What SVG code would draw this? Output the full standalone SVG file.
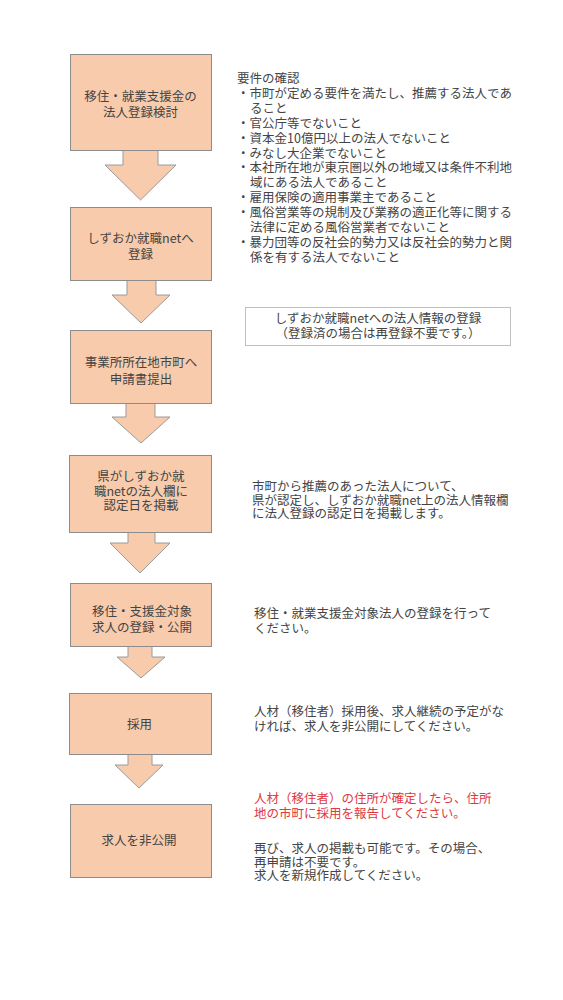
<svg xmlns="http://www.w3.org/2000/svg" width="563" height="1000" viewBox="0 0 563 1000">
<style>
.box{fill:#F8CBAD;stroke:#8c8c8c;stroke-width:1}
.arr{fill:#F8CBAD;stroke:#9a9a9a;stroke-width:1}
.t{font-family:"Noto Sans CJK JP","Noto Sans",sans-serif;font-size:12.5px;fill:#444444}
.c{text-anchor:middle}
.red{fill:#e0383f}
.note{fill:#ffffff;stroke:#bfbfbf;stroke-width:1}
</style>
<rect width="563" height="1000" fill="#ffffff"/>
<g id="connectors">
<polygon class="arr" points="123,150 158,150 158,165 176,165 140.5,200 105,165 123,165"/>
<polygon class="arr" points="127,280 156,280 156,295 170,295 141,323 112,295 127,295"/>
<polygon class="arr" points="126,403 155,403 155,417 170,417 141,443 112,417 126,417"/>
<polygon class="arr" points="128,532 155,532 155,543 170,543 140,573 110,543 128,543"/>
<polygon class="arr" points="128,646 152,646 152,657 165,657 141,678 117,657 128,657"/>
<polygon class="arr" points="128,754 152,754 152,765 163,765 139,788 115,765 128,765"/>
</g>
<g id="node1">
<rect class="box" x="70.5" y="54.5" width="141" height="96"/>
<text class="t c"><tspan x="140.5" y="100.5">移住・就業支援金の</tspan><tspan x="140.5" y="117">法人登録検討</tspan></text>
</g>
<g id="node2">
<rect class="box" x="70.5" y="207.5" width="141" height="73"/>
<text class="t c"><tspan x="140.5" y="242.5">しずおか就職netへ</tspan><tspan x="140.5" y="258.5">登録</tspan></text>
</g>
<g id="node3">
<rect class="box" x="70.5" y="330.5" width="141" height="73"/>
<text class="t c"><tspan x="141" y="367">事業所所在地市町へ</tspan><tspan x="141" y="383.5">申請書提出</tspan></text>
</g>
<g id="node4">
<rect class="box" x="69.5" y="455.5" width="142" height="77"/>
<text class="t c"><tspan x="141" y="481">県がしずおか就</tspan><tspan x="141" y="496">職netの法人欄に</tspan><tspan x="141" y="510">認定日を掲載</tspan></text>
</g>
<g id="node5">
<rect class="box" x="70.5" y="583.5" width="141" height="63"/>
<text class="t c"><tspan x="142" y="615.5">移住・支援金対象</tspan><tspan x="142" y="632">求人の登録・公開</tspan></text>
</g>
<g id="node6">
<rect class="box" x="69.5" y="693.5" width="142" height="61"/>
<text class="t c" x="139.5" y="728.5">採用</text>
</g>
<g id="node7">
<rect class="box" x="70.5" y="804.5" width="141" height="73"/>
<text class="t c" x="139" y="844.5">求人を非公開</text>
</g>
<g id="note1">
<text class="t"><tspan x="237" y="83">要件の確認</tspan><tspan x="237" y="97.9">・市町が定める要件を満たし、推薦する法人であ</tspan><tspan x="250" y="112.8">ること</tspan><tspan x="237" y="127.7">・官公庁等でないこと</tspan><tspan x="237" y="142.6">・資本金10億円以上の法人でないこと</tspan><tspan x="237" y="157.5">・みなし大企業でないこと</tspan><tspan x="237" y="172.4">・本社所在地が東京圏以外の地域又は条件不利地</tspan><tspan x="250" y="187.3">域にある法人であること</tspan><tspan x="237" y="202.2">・雇用保険の適用事業主であること</tspan><tspan x="237" y="217.1">・風俗営業等の規制及び業務の適正化等に関する</tspan><tspan x="250" y="232">法律に定める風俗営業者でないこと</tspan><tspan x="237" y="246.9">・暴力団等の反社会的勢力又は反社会的勢力と関</tspan><tspan x="250" y="261.8">係を有する法人でないこと</tspan></text>
</g>
<g id="note2">
<rect class="note" x="245.5" y="307.5" width="265" height="38"/>
<text class="t c"><tspan x="378" y="323">しずおか就職netへの法人情報の登録</tspan><tspan x="378" y="337.5">（登録済の場合は再登録不要です。）</tspan></text>
</g>
<g id="note3">
<text class="t"><tspan x="252" y="491">市町から推薦のあった法人について、</tspan><tspan x="252" y="504.5">県が認定し、しずおか就職net上の法人情報欄</tspan><tspan x="252" y="518">に法人登録の認定日を掲載します。</tspan></text>
</g>
<g id="note4">
<text class="t"><tspan x="254" y="618">移住・就業支援金対象法人の登録を行って</tspan><tspan x="254" y="633">ください。</tspan></text>
</g>
<g id="note5">
<text class="t"><tspan x="254" y="716">人材（移住者）採用後、求人継続の予定がな</tspan><tspan x="254" y="731">ければ、求人を非公開にしてください。</tspan></text>
</g>
<g id="note6">
<text class="t red"><tspan x="254" y="803">人材（移住者）の住所が確定したら、住所</tspan><tspan x="254" y="818">地の市町に採用を報告してください。</tspan></text>
<text class="t"><tspan x="254" y="853">再び、求人の掲載も可能です。その場合、</tspan><tspan x="254" y="866.5">再申請は不要です。</tspan><tspan x="254" y="880">求人を新規作成してください。</tspan></text>
</g>
</svg>
